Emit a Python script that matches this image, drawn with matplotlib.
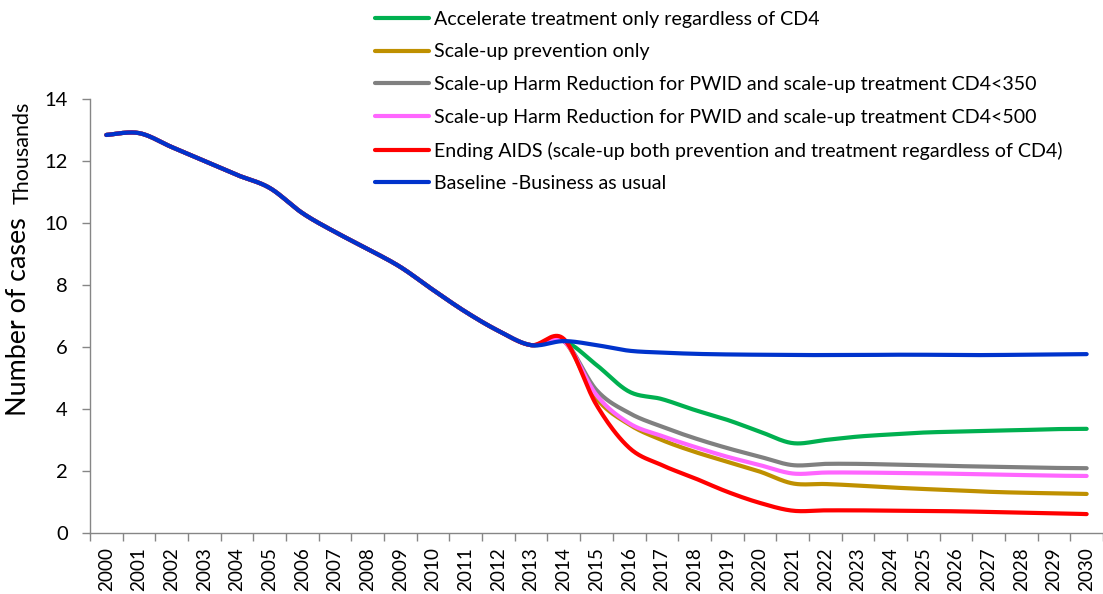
import numpy as np
import matplotlib
matplotlib.use("Agg")
import matplotlib.pyplot as plt

years = list(range(2000, 2031))
common = [12.84, 12.9, 12.45, 12.0, 11.55, 11.13, 10.32, 9.71, 9.16, 8.58, 7.84, 7.13, 6.52, 6.06]

accelerate = common + [6.19, 5.42, 4.56, 4.32, 3.97, 3.65, 3.27, 2.9, 3.0, 3.11, 3.18, 3.24, 3.27, 3.3, 3.32, 3.35, 3.36]
prevention = common + [6.19, 4.35, 3.5, 3.0, 2.62, 2.3, 1.98, 1.6, 1.58, 1.53, 1.47, 1.42, 1.38, 1.33, 1.3, 1.28, 1.26]
hr350 = common + [6.19, 4.61, 3.87, 3.43, 3.06, 2.74, 2.46, 2.19, 2.23, 2.23, 2.21, 2.19, 2.16, 2.14, 2.12, 2.1, 2.09]
hr500 = common + [6.19, 4.45, 3.54, 3.13, 2.78, 2.46, 2.19, 1.92, 1.95, 1.95, 1.94, 1.93, 1.91, 1.89, 1.87, 1.85, 1.84]
ending = common + [6.26, 4.13, 2.75, 2.19, 1.77, 1.33, 0.97, 0.72, 0.73, 0.73, 0.72, 0.71, 0.7, 0.68, 0.66, 0.64, 0.61]
baseline = common + [6.19, 6.06, 5.88, 5.82, 5.78, 5.76, 5.75, 5.74, 5.74, 5.74, 5.75, 5.75, 5.74, 5.74, 5.75, 5.76, 5.77]

labels = [
    "Accelerate treatment only regardless of CD4",
    "Scale-up prevention only",
    "Scale-up Harm Reduction for PWID and scale-up treatment CD4<350",
    "Scale-up Harm Reduction for PWID and scale-up treatment CD4<500",
    "Ending AIDS (scale-up both prevention and treatment regardless of CD4)",
    "Baseline -Business as usual",
]
series = [accelerate, prevention, hr350, hr500, ending, baseline]
colors = ["#00B050", "#BF9000", "#808080", "#FF66FF", "#FF0000", "#0033CC"]


def smooth(xs, ys, n=20):
    xs = np.asarray(xs, float)
    ys = np.asarray(ys, float)
    px, py = [], []
    for i in range(len(xs) - 1):
        x0, x1 = xs[i], xs[i + 1]
        y0, y1 = ys[i], ys[i + 1]
        xm = xs[i - 1] if i > 0 else x0
        ym = ys[i - 1] if i > 0 else y0
        xp = xs[i + 2] if i + 2 < len(xs) else x1
        yp = ys[i + 2] if i + 2 < len(ys) else y1
        c1x, c1y = x0 + (x1 - xm) / 6, y0 + (y1 - ym) / 6
        c2x, c2y = x1 - (xp - x0) / 6, y1 - (yp - y0) / 6
        t = np.linspace(0, 1, n, endpoint=False)
        bx = (1 - t) ** 3 * x0 + 3 * (1 - t) ** 2 * t * c1x + 3 * (1 - t) * t ** 2 * c2x + t ** 3 * x1
        by = (1 - t) ** 3 * y0 + 3 * (1 - t) ** 2 * t * c1y + 3 * (1 - t) * t ** 2 * c2y + t ** 3 * y1
        px.extend(bx); py.extend(by)
    px.append(xs[-1]); py.append(ys[-1])
    return np.array(px), np.array(py)


plt.rcParams['font.family'] = ['Lato', 'DejaVu Sans']
W, H = 1103, 594
fig = plt.figure(figsize=(W / 100, H / 100), dpi=100)
left, right, bottom, top = 90, 1103, 533, 99
ax = fig.add_axes([left / W, (H - bottom) / H, (right - left) / W, (bottom - top) / H])

idx = np.arange(len(years))
handles = []
for s, c, lab in zip(series, colors, labels):
    sx, sy = smooth(idx, s)
    h, = ax.plot(sx, sy, color=c, lw=3.0, solid_capstyle='round', label=lab)
    handles.append(h)

spacing = 32.8
ax.set_xlim(-0.5, -0.5 + (right - left) / spacing)
ax.set_ylim(0, 14)
ax.set_yticks(range(0, 15, 2))
ax.set_xticks(idx)
ax.set_xticklabels([str(y) for y in years], rotation=90, fontsize=13.6)
ax.set_xticks(np.arange(-0.5, 31, 1), minor=True)
ax.tick_params(axis='x', which='major', length=0, pad=10)
ax.tick_params(axis='x', which='minor', length=6, color='#868686', width=1)
ax.tick_params(axis='y', length=6, color='#868686', width=1, labelsize=14.5, pad=10)
for sp in ['top', 'right']:
    ax.spines[sp].set_visible(False)
for sp in ['left', 'bottom']:
    ax.spines[sp].set_color('#868686')
    ax.spines[sp].set_linewidth(1)

fig.text(19 / W, (H - 317) / H, "Number of cases", rotation=90, fontsize=19.4, ha='center', va='center')
fig.text(23 / W, (H - 153) / H, "Thousands", rotation=90, fontsize=15.5, ha='center', va='center')

fig.legend(handles=handles, labels=labels, loc='upper left', bbox_to_anchor=(367 / W, (H - 3) / H),
           frameon=False, fontsize=14.1, handlelength=2.78, handletextpad=0.26, labelspacing=0.8,
           borderaxespad=0)

fig.savefig("out.png", dpi=100)
